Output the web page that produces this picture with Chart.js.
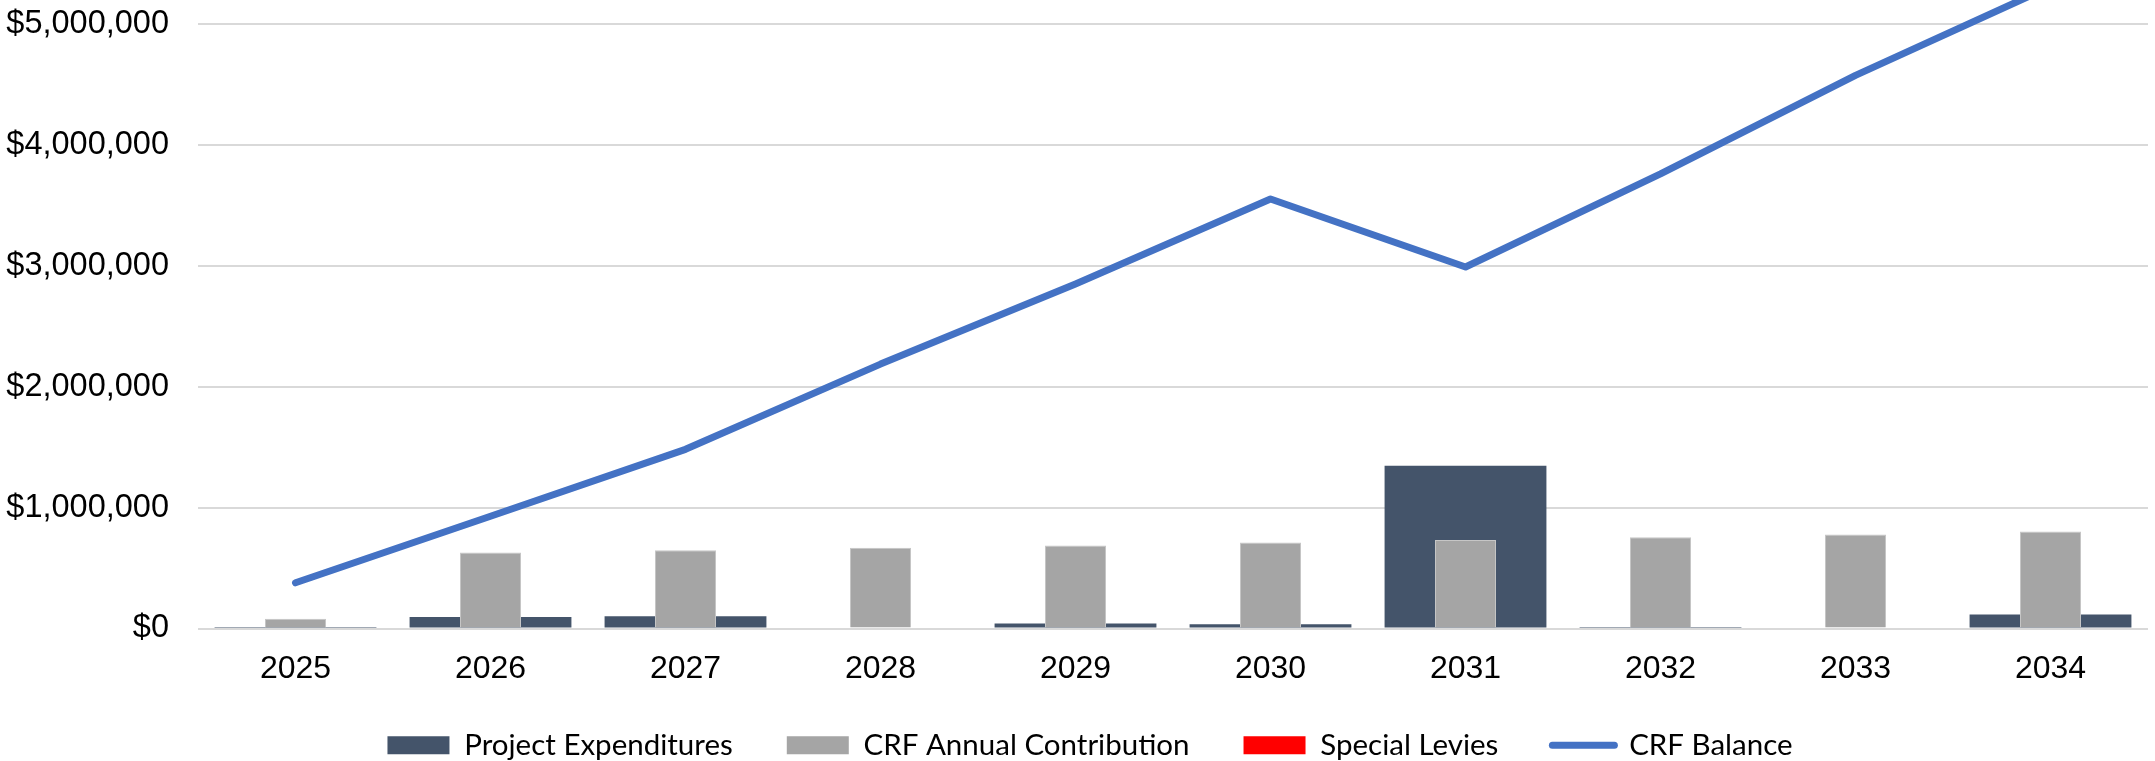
<!DOCTYPE html>
<html>
<head>
<meta charset="utf-8">
<title>Capital Reserve Fund Projection</title>
<script src="https://cdn.jsdelivr.net/npm/chart.js@4.4.1/dist/chart.umd.min.js"></script>
<style>
  html, body { margin: 0; padding: 0; background: #ffffff; overflow: hidden; }
  #wrap { position: relative; width: 2155px; height: 775px; }
</style>
</head>
<body>
<div id="wrap"><canvas id="crfChart"></canvas></div>
<script>
// Fiscal years on the category axis
const years = ['2025', '2026', '2027', '2028', '2029', '2030', '2031', '2032', '2033', '2034'];

// Annual amounts in dollars
const projectExpenditures = [12000, 96000, 102000, 0, 41000, 35000, 1347000, 12000, 0, 116000];
const crfAnnualContribution = [80000, 629000, 648000, 668000, 687000, 712000, 731000, 754000, 778000, 803000];
const specialLevies = [0, 0, 0, 0, 0, 0, 0, 0, 0, 0];

// Year-end reserve fund balance
const crfBalance = [378000, 928000, 1482000, 2187000, 2849000, 3553000, 2990000, 3760000, 4575000, 5310000];

// Value axis tick marks
const yTickValues = [0, 1000000, 2000000, 3000000, 4000000, 5000000];

const AXIS_FONT = 'Liberation Sans, Arial, sans-serif';
const LEGEND_FONT = 'Lato, Calibri, sans-serif';

const formatDollars = (v) => '$' + Number(v).toLocaleString('en-US');

new Chart(document.getElementById('crfChart'), {
  data: {
    labels: years,
    datasets: [
      {
        type: 'bar',
        label: 'Project Expenditures',
        data: projectExpenditures,
        backgroundColor: '#44546A',
        borderWidth: 0,
        grouped: false,
        categoryPercentage: 1,
        barPercentage: 0.83,
        order: 3
      },
      {
        type: 'bar',
        label: 'CRF Annual Contribution',
        data: crfAnnualContribution,
        backgroundColor: '#A5A5A5',
        borderColor: '#C6C6C6',
        borderWidth: 1,
        grouped: false,
        categoryPercentage: 1,
        barPercentage: 0.313,
        order: 1
      },
      {
        type: 'bar',
        label: 'Special Levies',
        data: specialLevies,
        backgroundColor: '#FF0000',
        borderWidth: 0,
        grouped: false,
        categoryPercentage: 1,
        barPercentage: 0.313,
        order: 2
      },
      {
        type: 'line',
        label: 'CRF Balance',
        data: crfBalance,
        borderColor: '#4472C4',
        backgroundColor: '#4472C4',
        borderWidth: 7,
        borderCapStyle: 'round',
        borderJoinStyle: 'round',
        pointRadius: 0,
        tension: 0,
        clip: false,
        order: 0
      }
    ]
  },
  options: {
    responsive: true,
    maintainAspectRatio: false,
    animation: false,
    layout: { padding: { top: 24, left: 32, right: 7, bottom: 5 } },
    plugins: {
      tooltip: { enabled: false },
      legend: {
        position: 'bottom',
        labels: {
          usePointStyle: true,
          pointStyleWidth: 62,
          boxHeight: 18,
          padding: 54,
          color: '#000000',
          font: { family: LEGEND_FONT, size: 29.5 },
          generateLabels(chart) {
            return chart.data.datasets.map((ds, i) => {
              const isLine = ds.type === 'line';
              return {
                text: ds.label,
                fillStyle: isLine ? ds.borderColor : ds.backgroundColor,
                strokeStyle: isLine ? ds.borderColor : ds.backgroundColor,
                lineWidth: isLine ? 7 : 0,
                lineCap: 'round',
                pointStyle: isLine ? 'line' : 'rect',
                hidden: !chart.isDatasetVisible(i),
                fontColor: '#000000',
                datasetIndex: i
              };
            });
          }
        }
      }
    },
    scales: {
      x: {
        grid: { display: false },
        border: { display: false },
        ticks: {
          color: '#000000',
          font: { family: AXIS_FONT, size: 32 },
          padding: 13,
          maxRotation: 0
        },
        afterFit(scale) {
          // Short axis box so the legend sits close; let year labels draw past it
          scale.height = 48;
          scale._computeLabelArea = () => undefined;
        }
      },
      y: {
        min: 0,
        max: 5000000,
        grid: { color: '#D9D9D9', lineWidth: 2, drawTicks: false },
        border: { display: false },
        ticks: {
          color: '#000000',
          font: { family: AXIS_FONT, size: 32.5 },
          padding: 29,
          callback: formatDollars
        },
        afterBuildTicks(axis) {
          axis.ticks = yTickValues.map((v) => ({ value: v }));
        },
        afterFit(scale) {
          // Fixed gutter for the dollar labels, which may extend into the left margin
          scale.width = 166;
          scale.paddingTop = 0;
          scale.paddingBottom = 0;
          scale._computeLabelArea = () => undefined;
        }
      }
    }
  }
});
</script>
</body>
</html>
